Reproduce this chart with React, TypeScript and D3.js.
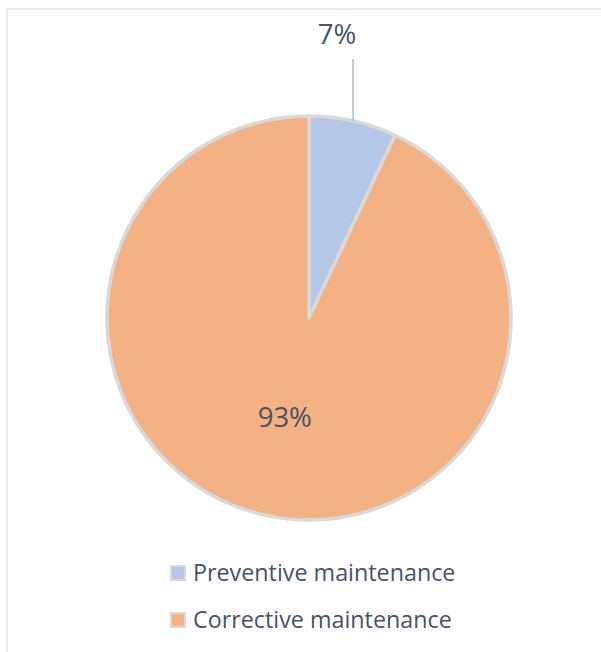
import React from "react";
import * as d3 from "d3";

const categories = ["Preventive maintenance", "Corrective maintenance"];
const values = [7, 93];
const labels = ["7%", "93%"];
const colors = ["#b4c7e7", "#f4b183"];

const W = 601;
const H = 652;
const cx = 309;
const cy = 318;
const R = 202;
const textColor = "#44546a";
const font = "'Open Sans', sans-serif";

export default function App() {
  const pie = d3.pie<number>().sort(null).value((d) => d);
  const arcs = pie(values);
  const arcGen = d3.arc<d3.PieArcDatum<number>>().innerRadius(0).outerRadius(R);

  const a0 = arcs[0];
  const mid0 = (a0.startAngle + a0.endAngle) / 2;
  const lx = cx + R * Math.sin(mid0);
  const ly = cy - R * Math.cos(mid0);

  const a1 = arcs[1];
  const inner = d3.arc<d3.PieArcDatum<number>>().innerRadius(R * 0.55).outerRadius(R * 0.55);
  const c1 = inner.centroid(a1);

  return (
    <svg width={W} height={H} style={{ position: "absolute", left: 0, top: 0, background: "#fff" }}>
      <rect x={7} y={9} width={W} height={H} fill="none" stroke="#dfe3e9" strokeWidth={1.5} />
      <g transform={`translate(${cx},${cy})`}>
        {arcs.map((a, i) => (
          <path key={i} d={arcGen(a) || ""} fill={colors[i]} stroke="#d9d9d9" strokeWidth={3.5} strokeLinejoin="round" />
        ))}
      </g>
      <line x1={lx} x2={lx} y1={59} y2={ly} stroke="#adb9ca" strokeWidth={1.5} />
      <text x={337} y={44} textAnchor="middle" fontFamily={font} fontSize={27.5} fill={textColor}>
        {labels[0]}
      </text>
      <text x={cx + c1[0]} y={427} textAnchor="middle" fontFamily={font} fontSize={27.5} fill={textColor}>
        {labels[1]}
      </text>
      {categories.map((c, i) => (
        <g key={c} transform={`translate(0, ${i * 47})`}>
          <rect x={171} y={566} width={14} height={14} fill={colors[i]} stroke="#d9d9d9" strokeWidth={2} />
          <text x={193} y={581} fontFamily={font} fontSize={23.3} fill={textColor}>
            {c}
          </text>
        </g>
      ))}
    </svg>
  );
}
